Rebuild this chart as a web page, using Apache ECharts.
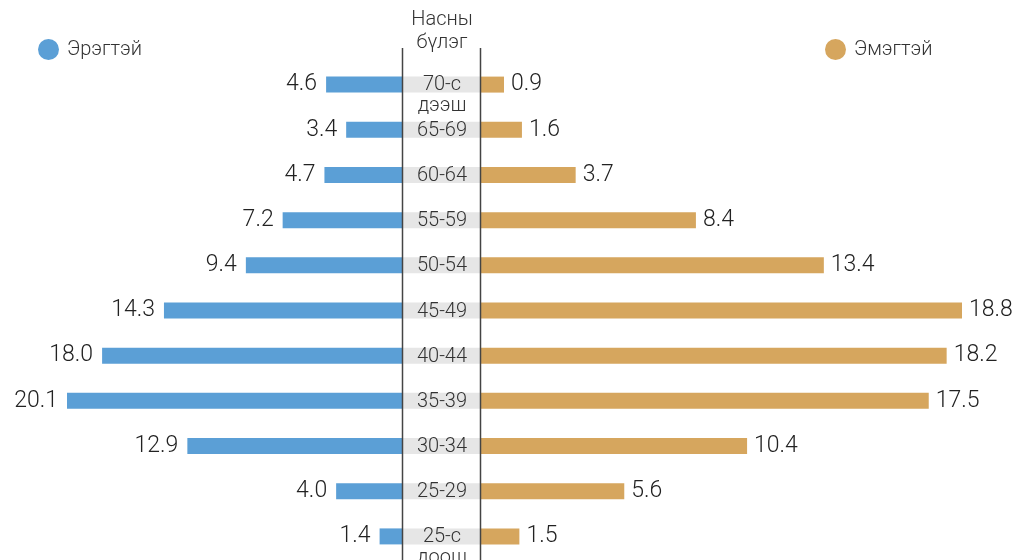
<!DOCTYPE html>
<html>
<head>
<meta charset="utf-8">
<script src="https://cdn.jsdelivr.net/npm/echarts@6/dist/echarts.min.js"></script>
<style>
  html, body { margin: 0; padding: 0; background: #fff; }
  #chart { width: 1012px; height: 560px; }
</style>
</head>
<body>
<div id="chart"></div>
<script>
// age groups, top to bottom
var ageGroups = ['70-с\nдээш', '65-69', '60-64', '55-59', '50-54', '45-49',
    '40-44', '35-39', '30-34', '25-29', '25-с\nдоош'];
var male = [4.6, 3.4, 4.7, 7.2, 9.4, 14.3, 18.0, 20.1, 12.9, 4.0, 1.4];
var female = [0.9, 1.6, 3.7, 8.4, 13.4, 18.8, 18.2, 17.5, 10.4, 5.6, 1.5];

var font = 'Roboto, "Noto Sans", sans-serif';
var blue = '#5b9fd6';
var gold = '#d6a65e';

var chart = echarts.init(document.getElementById('chart'));

var catAxis = function (grid) {
    return {
        type: 'category',
        gridIndex: grid,
        inverse: true,
        data: ageGroups,
        axisLine: {show: false},
        axisTick: {show: false},
        axisLabel: {show: false}
    };
};

chart.setOption({
    animation: false,
    textStyle: {fontFamily: font},
    title: {
        text: 'Насны\nбүлэг',
        left: 442,
        textAlign: 'center',
        top: 8,
        padding: 0,
        textStyle: {fontSize: 20, fontWeight: 300, color: '#333', lineHeight: 23, fontFamily: font}
    },
    legend: [
        {
            data: ['Эрэгтэй'],
            left: 38, top: 39, padding: 0,
            icon: 'circle', itemWidth: 21, itemHeight: 21,
            textStyle: {fontSize: 20, fontWeight: 300, color: '#333', fontFamily: font, padding: [0, 0, 0, 3]}
        },
        {
            data: ['Эмэгтэй'],
            left: 825, top: 39, padding: 0,
            icon: 'circle', itemWidth: 21, itemHeight: 21,
            textStyle: {fontSize: 20, fontWeight: 300, color: '#333', fontFamily: font, padding: [0, 0, 0, 3]}
        }
    ],
    grid: [
        {left: 67, right: 609, top: 62, bottom: 1},
        {left: 403, right: 531, top: 62, bottom: 1},
        {left: 481, right: 50, top: 62, bottom: 1}
    ],
    xAxis: [
        {type: 'value', gridIndex: 0, inverse: true, min: 0, max: 20.1, show: false},
        {type: 'value', gridIndex: 1, min: 0, max: 1, show: false},
        {type: 'value', gridIndex: 2, min: 0, max: 18.8, show: false}
    ],
    yAxis: [catAxis(0), catAxis(1), catAxis(2)],
    series: [
        {
            name: 'Эрэгтэй',
            type: 'bar',
            xAxisIndex: 0, yAxisIndex: 0,
            data: male,
            barWidth: 16,
            itemStyle: {color: blue},
            label: {
                show: true, position: 'left', distance: 9,
                fontSize: 23, fontWeight: 300, color: '#222', fontFamily: font,
                formatter: function (p) { return p.value.toFixed(1); }
            }
        },
        {
            name: 'box',
            type: 'bar',
            xAxisIndex: 1, yAxisIndex: 1,
            data: ageGroups.map(function (g) {
                var two = g.indexOf('\n') >= 0;
                return {value: 1, label: {offset: [0, two ? 11 : 1]}};
            }),
            barWidth: 16,
            itemStyle: {color: '#e6e6e6'},
            silent: true,
            label: {
                show: true, position: 'inside',
                fontSize: 20, fontWeight: 300, lineHeight: 21, color: '#333', fontFamily: font,
                formatter: function (p) { return p.name; }
            }
        },
        {
            name: 'Эмэгтэй',
            type: 'bar',
            xAxisIndex: 2, yAxisIndex: 2,
            data: female,
            barWidth: 16,
            itemStyle: {color: gold},
            label: {
                show: true, position: 'right', distance: 7,
                fontSize: 23, fontWeight: 300, color: '#222', fontFamily: font,
                formatter: function (p) { return p.value.toFixed(1); }
            }
        }
    ],
    graphic: [
        {type: 'line', shape: {x1: 402.5, y1: 48, x2: 402.5, y2: 560}, style: {stroke: '#444', lineWidth: 1.5}, z: 10},
        {type: 'line', shape: {x1: 480.5, y1: 48, x2: 480.5, y2: 560}, style: {stroke: '#444', lineWidth: 1.5}, z: 10}
    ]
});
</script>
</body>
</html>
